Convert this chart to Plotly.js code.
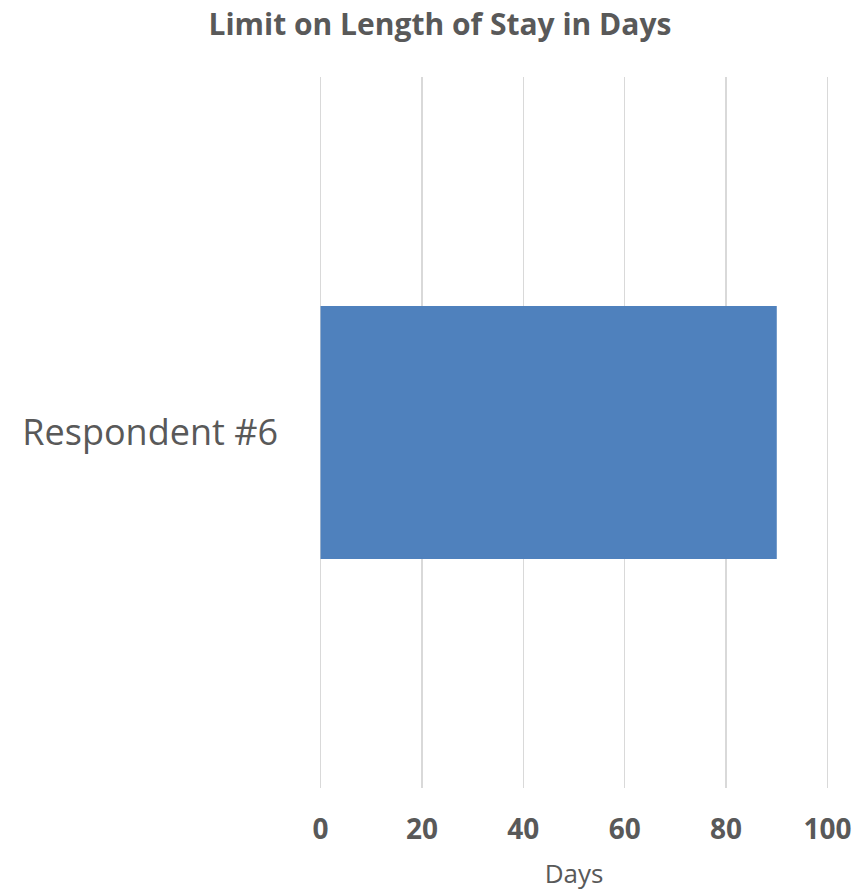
<!DOCTYPE html>
<html>
<head>
<meta charset="utf-8">
<script src="https://cdn.plot.ly/plotly-3.0.1.min.js"></script>
<style>html,body{margin:0;padding:0;background:#fff;}#chart{width:866px;height:892px;}</style>
</head>
<body>
<div id="chart"></div>
<script>
const categories = ["Respondent #6"];
const days = [90];
const xTicks = [0, 20, 40, 60, 80, 100];

const trace = {
  type: "bar",
  orientation: "h",
  y: categories,
  x: days,
  marker: { color: "#4F81BD" },
  hoverinfo: "x+y"
};

const layout = {
  width: 866,
  height: 892,
  margin: { l: 318.5, r: 36.5, t: 77, b: 104 },
  paper_bgcolor: "#ffffff",
  plot_bgcolor: "#ffffff",
  showlegend: false,
  bargap: 0.644,
  font: { family: "Open Sans, sans-serif", color: "#595959" },
  title: {
    text: "<b>Limit on Length of Stay in Days</b>",
    font: { family: "Open Sans, sans-serif", size: 30, color: "#595959" },
    x: 0.508, xref: "container", xanchor: "center",
    y: 0.973, yref: "container", yanchor: "middle"
  },
  xaxis: {
    range: [-0.3, 100.3],
    tickvals: xTicks,
    ticktext: xTicks.map(v => "<b>" + v + "</b>"),
    showgrid: true,
    gridcolor: "#D9D9D9",
    gridwidth: 1.5,
    zeroline: false,
    showline: false,
    ticks: "",
    ticklabelstandoff: 22,
    tickfont: { family: "Open Sans, sans-serif", size: 28, color: "#595959" },
    title: { text: "Days", font: { family: "Open Sans, sans-serif", size: 26, color: "#595959" }, standoff: 18 },
    fixedrange: true
  },
  yaxis: {
    type: "category",
    range: [-0.5, 0.5],
    showgrid: false,
    zeroline: false,
    showline: false,
    ticks: "",
    ticklabelstandoff: 40,
    tickfont: { family: "Open Sans, sans-serif", size: 36, color: "#595959" },
    fixedrange: true
  }
};

Plotly.newPlot("chart", [trace], layout, { displayModeBar: false, staticPlot: true });
</script>
</body>
</html>
